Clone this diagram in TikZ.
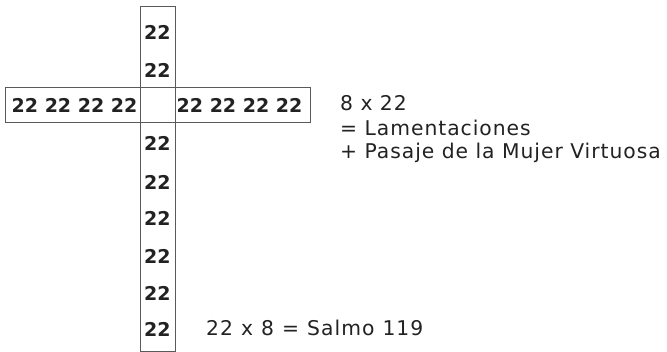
\documentclass[tikz,border=0pt]{standalone}
\usepackage{fontspec}
\setmainfont{DejaVu Sans}
\newfontfamily\notefont[LetterSpace=4.8]{DejaVu Sans}
\newfontfamily\widenotefont[LetterSpace=5,WordSpace=1.08]{DejaVu Sans}
\definecolor{txt}{RGB}{34,34,34}
\definecolor{frame}{RGB}{90,90,90}
\begin{document}
\begin{tikzpicture}[x=1pt,y=-1pt,
  boxline/.style={draw=frame,line width=0.9pt},
  num/.style={font=\fontsize{19}{20}\selectfont\bfseries,text=txt,inner sep=0pt},
  note/.style={font=\notefont\fontsize{20.3}{22}\selectfont,text=txt,inner sep=0pt,anchor=base west}]
\useasboundingbox (0,0) rectangle (667,352);
\node[boxline,minimum width=305pt,minimum height=35.5pt,inner sep=0pt,anchor=north west] (hbar) at (5,87) {};
\node[boxline,minimum width=34.5pt,minimum height=345.5pt,inner sep=0pt,anchor=north west] (vbar) at (140,6) {};
\node[num,anchor=west] (hl) at (11.5,105) {22 22 22 22};
\node[num,anchor=west] (hr) at (176.5,105) {22 22 22 22};
\foreach \i/\y in {1/32,2/70,3/143,4/182,5/218,6/256,7/293,8/329}
  \node[num] (v\i) at (157.3,\y) {22};
\node[note] (n1) at (340,111) {8 x 22};
\node[note] (n2) at (340,135.5) {= Lamentaciones};
\node[note] (n3) at (340,158.5) {+ Pasaje de la Mujer Virtuosa};
\node[note,font=\widenotefont\fontsize{20.3}{22}\selectfont] (n4) at (206,336) {22 x 8 = Salmo 119};
\end{tikzpicture}
\end{document}
